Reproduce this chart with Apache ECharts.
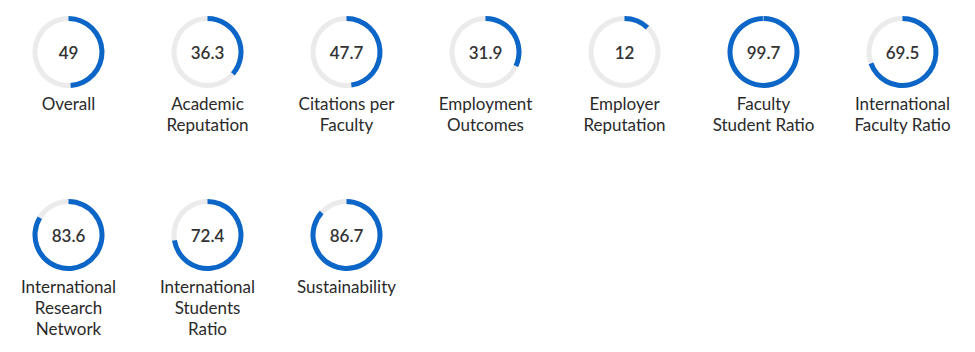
<!DOCTYPE html>
<html>
<head>
<meta charset="utf-8">
<script src="https://cdn.jsdelivr.net/npm/echarts@6/dist/echarts.min.js"></script>
<style>
html,body{margin:0;padding:0;background:#fff;}
#chart{width:975px;height:352px;}
</style>
</head>
<body>
<div id="chart"></div>
<script>
const categories = [
  "Overall",
  "Academic\nReputation",
  "Citations per\nFaculty",
  "Employment\nOutcomes",
  "Employer\nReputation",
  "Faculty\nStudent Ratio",
  "International\nFaculty Ratio",
  "International\nResearch\nNetwork",
  "International\nStudents\nRatio",
  "Sustainability"
];
const values = [49, 36.3, 47.7, 31.9, 12, 99.7, 69.5, 83.6, 72.4, 86.7];

const COLS = 7, X0 = 68.5, DX = 139, Y0 = 52, DY = 183, R = 36, RING = 5;
const BLUE = '#0c66c8', TRACK = '#ebebeb';
const FONT = 'Lato, "Open Sans", sans-serif';

const chart = echarts.init(document.getElementById('chart'), null, {renderer: 'svg'});
const series = [], graphics = [];
values.forEach((v, i) => {
  const cx = X0 + (i % COLS) * DX;
  const cy = Y0 + Math.floor(i / COLS) * DY;
  series.push({
    type: 'gauge',
    center: [cx, cy],
    radius: R,
    startAngle: 90,
    endAngle: -270,
    min: 0,
    max: 100,
    pointer: {show: false},
    progress: {show: true, width: RING, itemStyle: {color: BLUE}},
    axisLine: {lineStyle: {width: RING, color: [[1, TRACK]]}},
    axisTick: {show: false},
    splitLine: {show: false},
    axisLabel: {show: false},
    anchor: {show: false},
    title: {show: false},
    detail: {
      offsetCenter: [0, 0],
      fontSize: 17,
      fontWeight: 600,
      fontFamily: FONT,
      color: '#333',
      formatter: '{value}'
    },
    animation: false,
    data: [{value: v}]
  });
  graphics.push({
    type: 'text',
    x: cx,
    y: cy + R + 5,
    style: {
      text: categories[i],
      align: 'center',
      verticalAlign: 'top',
      fontSize: 17,
      fontWeight: 'normal',
      lineHeight: 21,
      fontFamily: FONT,
      fill: '#2a2a2a'
    }
  });
});

chart.setOption({
  backgroundColor: '#fff',
  animation: false,
  series: series,
  graphic: graphics
});
</script>
</body>
</html>
